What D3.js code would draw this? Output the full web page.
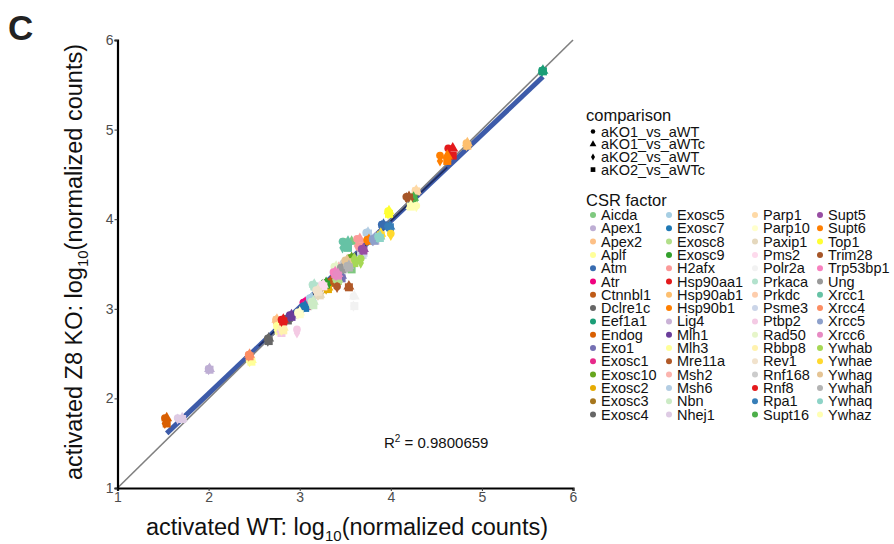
<!DOCTYPE html>
<html><head><meta charset="utf-8">
<script src="https://cdn.jsdelivr.net/npm/d3@7"></script>
<style>body{margin:0;background:#fff}svg{display:block;font-family:"Liberation Sans",Arial,sans-serif}</style>
</head><body>
<svg id="chart" width="894" height="544"></svg>
<script>
const genes = ["Aicda","Apex1","Apex2","Aplf","Atm","Atr","Ctnnbl1","Dclre1c","Eef1a1","Endog","Exo1","Exosc1","Exosc10","Exosc2","Exosc3","Exosc4",
"Exosc5","Exosc7","Exosc8","Exosc9","H2afx","Hsp90aa1","Hsp90ab1","Hsp90b1","Lig4","Mlh1","Mlh3","Mre11a","Msh2","Msh6","Nbn","Nhej1",
"Parp1","Parp10","Paxip1","Pms2","Polr2a","Prkaca","Prkdc","Psme3","Ptbp2","Rad50","Rbbp8","Rev1","Rnf168","Rnf8","Rpa1","Supt16",
"Supt5","Supt6","Top1","Trim28","Trp53bp1","Ung","Xrcc1","Xrcc4","Xrcc5","Xrcc6","Ywhab","Ywhae","Ywhag","Ywhah","Ywhaq","Ywhaz"];
const geneColors = ["#7fc97f","#beaed4","#fdc086","#ffff99","#386cb0","#f0027f","#bf5b17","#666666",
"#1b9e77","#d95f02","#7570b3","#e7298a","#66a61e","#e6ab02","#a6761d","#666666",
"#a6cee3","#1f78b4","#b2df8a","#33a02c","#fb9a99","#e31a1c","#fdbf6f","#ff7f00","#cab2d6","#6a3d9a","#ffff99","#b15928",
"#fbb4ae","#b3cde3","#ccebc5","#decbe4","#fed9a6","#ffffcc","#e5d8bd","#fddaec","#f2f2f2",
"#b3e2cd","#fdcdac","#cbd5e8","#f4cae4","#e6f5c9","#fff2ae","#f1e2cc","#cccccc",
"#e41a1c","#377eb8","#4daf4a","#984ea3","#ff7f00","#ffff33","#a65628","#f781bf","#999999",
"#66c2a5","#fc8d62","#8da0cb","#e78ac3","#a6d854","#ffd92f","#e5c494","#b3b3b3","#8dd3c7","#ffffb3"];
// log10 normalized counts per gene (same order as genes)
const aWT   = [3.48,2.00,2.74,2.45,3.90,3.04,3.33,2.65,5.66,1.52,3.44,3.06,3.55,3.29,3.19,2.85,
3.11,3.04,3.40,3.27,3.63,4.63,4.83,4.54,3.81,2.89,2.75,3.41,3.41,3.73,3.13,1.66,
4.27,2.98,3.20,3.24,3.59,3.14,3.50,3.67,2.97,3.38,2.80,3.18,3.48,2.80,3.97,4.23,
3.68,3.74,3.97,4.17,3.37,3.45,3.47,2.44,3.80,3.40,3.67,4.00,3.50,3.52,3.86,4.28];
const aWTc  = [3.57,2.01,2.75,2.47,3.92,3.06,3.34,2.66,5.67,1.54,3.46,3.08,3.57,3.31,3.21,2.87,
3.13,3.06,3.42,3.29,3.66,4.68,4.84,4.62,3.83,2.91,2.77,3.54,3.43,3.75,3.15,1.71,
4.28,3.00,3.22,3.26,3.60,3.16,3.52,3.69,2.80,3.40,2.82,3.20,3.50,2.82,3.99,4.25,
3.70,3.76,3.98,4.20,3.39,3.47,3.53,2.45,3.82,3.42,3.60,3.89,3.52,3.54,3.88,4.22];
const aKO1  = [3.75,2.33,2.88,2.43,3.94,3.07,3.30,2.67,5.66,1.78,3.37,3.05,3.57,3.24,3.20,2.89,
3.12,3.03,3.33,3.29,3.78,4.79,4.85,4.71,3.79,2.93,2.81,3.25,3.46,3.85,3.08,1.78,
4.32,2.96,3.16,3.27,3.14,3.27,3.53,3.62,2.77,3.47,2.79,3.21,3.51,2.88,3.92,4.24,
3.67,3.77,4.09,4.25,3.41,3.46,3.75,2.49,3.78,3.39,3.56,3.84,3.54,3.48,3.81,4.15];
const aKO2  = [3.44,2.32,2.87,2.41,3.93,3.06,3.29,2.64,5.65,1.72,3.34,3.03,3.53,3.22,3.18,2.87,
3.10,3.01,3.31,3.27,3.70,4.71,4.82,4.65,3.76,2.91,2.76,3.24,3.44,3.84,3.04,1.77,
4.31,2.94,3.15,3.25,3.03,3.25,3.51,3.60,2.73,3.45,2.76,3.19,3.50,2.86,3.91,4.23,
3.65,3.76,4.06,4.24,3.39,3.44,3.68,2.47,3.76,3.37,3.51,3.82,3.52,3.46,3.79,4.14];
const comparisons = ["aKO1_vs_aWT","aKO1_vs_aWTc","aKO2_vs_aWT","aKO2_vs_aWTc"];
const axisTicks = [1,2,3,4,5,6];
const fitX = [1.54, 5.67];
const fitY = [1.61, 5.59];
const fitCoreX = [2.55, 4.62];
const r2Label = "0.9800659";

const svg = d3.select("#chart");
const x = d3.scaleLinear().domain([1,6]).range([117.5,573]);
const y = d3.scaleLinear().domain([1,6]).range([488,40]);

const symTypes = [d3.symbolCircle, d3.symbolTriangle, d3.symbolDiamond, d3.symbolSquare];
const symSizes = [46, 52, 36, 64];

// lines
const fitLine = d3.scaleLinear().domain(fitX).range(fitY);
svg.append("line").attr("x1",x(fitX[0])).attr("y1",y(fitY[0])).attr("x2",x(fitX[1])).attr("y2",y(fitY[1]))
  .attr("stroke","#3d5ba9").attr("stroke-width",5);
svg.append("line").attr("x1",x(1)).attr("y1",y(1)).attr("x2",x(6)).attr("y2",y(6))
  .attr("stroke","#808080").attr("stroke-width",1.6);
svg.append("line").attr("x1",x(fitCoreX[0])).attr("y1",y(fitLine(fitCoreX[0])))
  .attr("x2",x(fitCoreX[1])).attr("y2",y(fitLine(fitCoreX[1])))
  .attr("stroke","#1e2b5e").attr("stroke-width",1.6);

// points
const pts = [];
genes.forEach((g,i)=>{
  pts.push({g:i,c:0,x:aWT[i], y:aKO1[i]});
  pts.push({g:i,c:1,x:aWTc[i],y:aKO1[i]});
  pts.push({g:i,c:2,x:aWT[i], y:aKO2[i]});
  pts.push({g:i,c:3,x:aWTc[i],y:aKO2[i]});
});
svg.append("g").selectAll("path").data(pts).join("path")
  .attr("transform",d=>`translate(${x(d.x)},${y(d.y)})`)
  .attr("d",d=>d3.symbol().type(symTypes[d.c]).size(symSizes[d.c])())
  .attr("fill",d=>geneColors[d.g]);

// axes
const ax = svg.append("g").attr("transform","translate(0,488)")
  .call(d3.axisBottom(x).tickValues(axisTicks).tickSize(3).tickPadding(1).tickFormat(d3.format("d")));
const ay = svg.append("g").attr("transform","translate(117.5,0)")
  .call(d3.axisLeft(y).tickValues(axisTicks).tickSize(3).tickPadding(1).tickFormat(d3.format("d")));
[ax,ay].forEach(a=>{
  a.select(".domain").attr("stroke","#000").attr("stroke-width",2.2);
  a.selectAll(".tick line").attr("stroke","#333");
  a.selectAll(".tick text").attr("fill","#4d4d4d").style("font-size","14px").style("font-family","Liberation Sans, Arial, sans-serif");
});

// axis titles
const xt = svg.append("text").attr("x",347).attr("y",535).attr("text-anchor","middle")
  .style("font-size","23.5px").attr("fill","#111");
xt.append("tspan").text("activated WT: log");
xt.append("tspan").text("10").style("font-size","15px").attr("dy",6);
xt.append("tspan").text("(normalized counts)").attr("dy",-6);
const yt = svg.append("text").attr("transform","translate(82,262) rotate(-90)").attr("text-anchor","middle")
  .style("font-size","23.5px").attr("fill","#111");
yt.append("tspan").text("activated Z8 KO: log");
yt.append("tspan").text("10").style("font-size","15px").attr("dy",6);
yt.append("tspan").text("(normalized counts)").attr("dy",-6);

// panel letter
svg.append("text").attr("x",8).attr("y",40).text("C").style("font-size","35px").style("font-weight","bold").attr("fill","#222");

// R2
const rt = svg.append("text").attr("x",384).attr("y",448).style("font-size","15px").attr("fill","#111");
rt.append("tspan").text("R");
rt.append("tspan").text("2").style("font-size","10px").attr("dy",-6);
rt.append("tspan").text(" = " + r2Label).attr("dy",6);

// legend: comparison
const lg = svg.append("g").style("font-size","14.5px").attr("fill","#111");
lg.append("text").attr("x",586).attr("y",121).text("comparison").style("font-size","16.5px");
const legSym = [16, 20, 14, 22];
comparisons.forEach((c,i)=>{
  const yy = 131.5 + i*12.7;
  lg.append("path").attr("transform",`translate(593,${yy})`).attr("d",d3.symbol().type(symTypes[i]).size(legSym[i])()).attr("fill","#000");
  lg.append("text").attr("x",601).attr("y",yy+5).text(c);
});
lg.append("text").attr("x",586).attr("y",206).text("CSR factor").style("font-size","16.5px");
const colX = [593, 669, 755, 820];
genes.forEach((g,i)=>{
  const col = Math.floor(i/16), row = i%16;
  const yy = 215 + row*13.3;
  lg.append("circle").attr("cx",colX[col]).attr("cy",yy).attr("r",3).attr("fill",geneColors[i]);
  lg.append("text").attr("x",colX[col]+8).attr("y",yy+5).text(g);
});
</script>
</body></html>
